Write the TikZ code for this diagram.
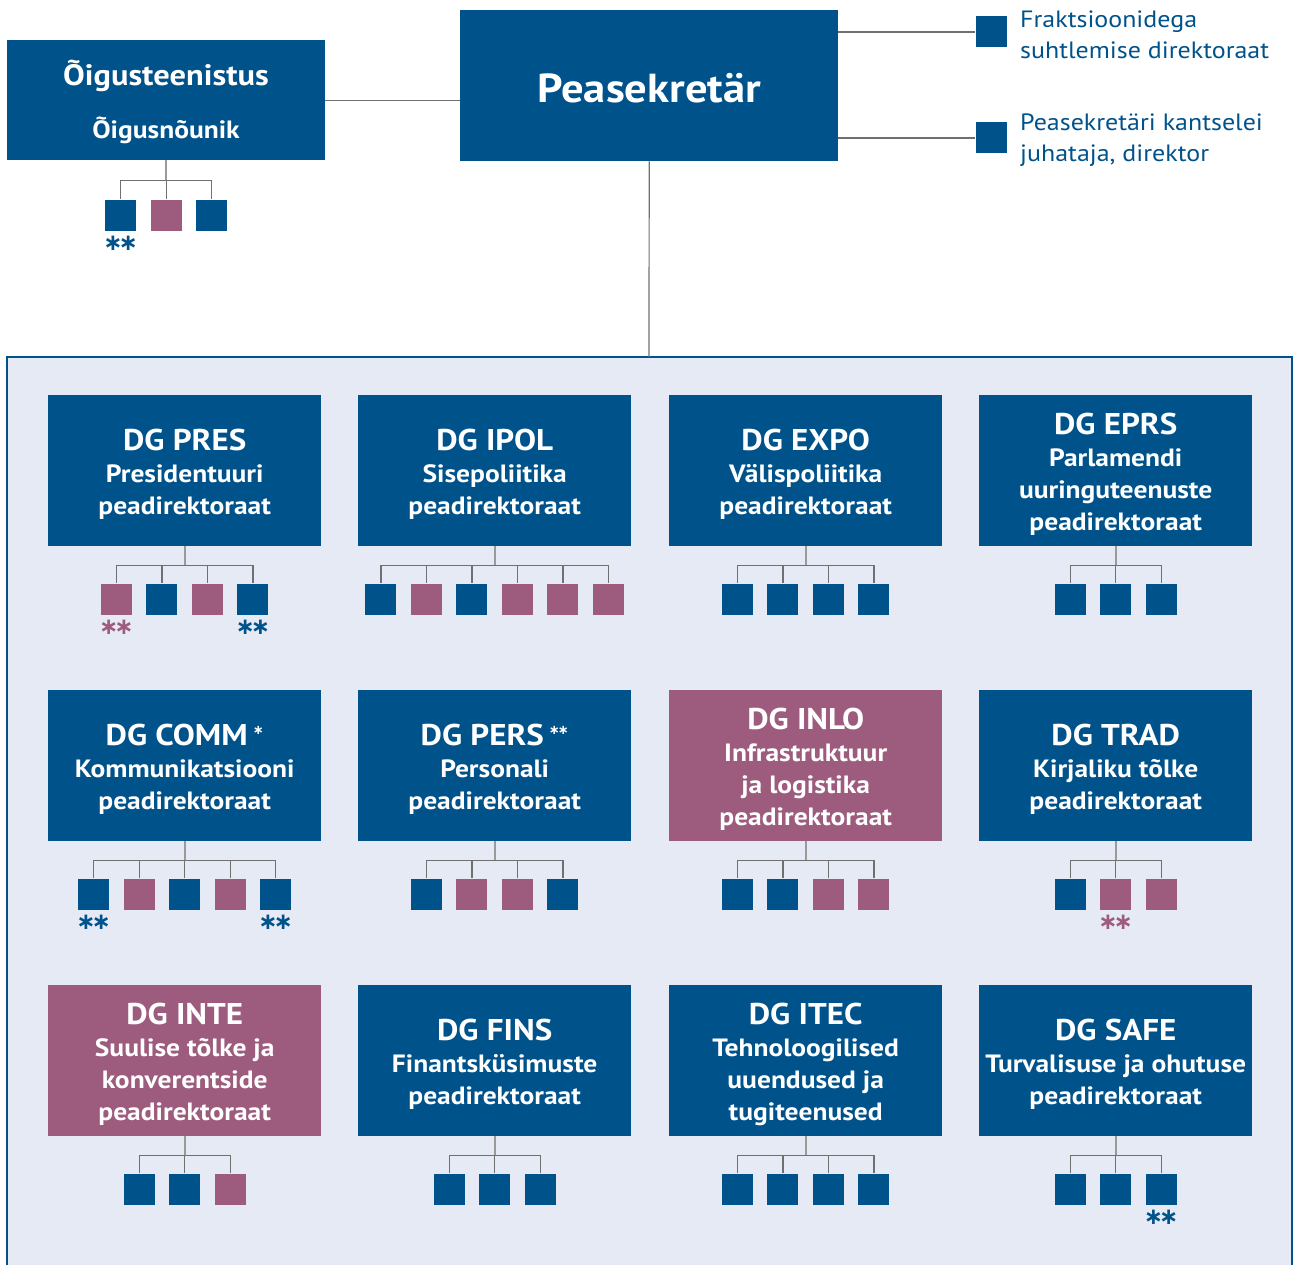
\documentclass[tikz,border=0pt]{standalone}
\usepackage{fontspec}
\setmainfont{PT Sans}[FakeStretch=1.1]
\newfontfamily\starfont{DejaVu Sans}
\usetikzlibrary{calc}
\definecolor{epblue}{HTML}{00528B}
\definecolor{eppink}{HTML}{9D5C7D}
\definecolor{epbg}{HTML}{E6EAF4}
\definecolor{epline}{HTML}{707070}
\definecolor{epstem}{HTML}{9A9A9A}
\tikzset{
  dgbox/.style={minimum width=273pt, minimum height=151pt, inner sep=0pt, anchor=north west,
    text=white, font=\bfseries\fontsize{25}{32}\selectfont, align=center},
  dgtext/.style={text=white, font=\bfseries\fontsize{25}{32}\selectfont, align=center, inner sep=0pt},
  sq/.style={minimum size=31pt, inner sep=0pt, draw=none},
  stemline/.style={draw=epstem, line width=2pt},
  barline/.style={draw=epline, line width=1.4pt},
  stars/.style={font=\starfont\bfseries\fontsize{23}{23}\selectfont, inner sep=0pt, anchor=base},
  sidetext/.style={anchor=west, text=epblue, font=\fontsize{23.6}{31}\selectfont, align=left, inner sep=0pt},
  thinline/.style={draw=epline, line width=1.2pt},
}
\newcommand\orgunit[5]{\node[dgbox, fill=#4] (#1) at (#2,#3) {};
  \node[dgtext] (#1-t) at ($(#1.center)+(0,3.5)$) {#5};}
\newcommand\orgkids[3]{%
  \coordinate (#1-j) at ($(#1.south)+(0,19)$);
  \draw[stemline] (#1.south) -- (#1-j);
  \foreach \c [count=\i] in {#3} {
    \node[sq, fill=\c, anchor=north] (#1-\i) at ($(#1.south)+({(\i-(#2+1)/2)*45.5},37)$) {};
    \draw[barline] (#1-j) -| (#1-\i.north);
  }%
}
\newcommand\titl[1]{{\fontsize{30}{32}\selectfont #1}}
\newcommand\supstar[1]{\raisebox{11pt}{\starfont\bfseries\fontsize{13}{13}\selectfont #1}}
\newcommand\starlabel[3]{\node[stars, text=#1] (#2-s) at ($(#2.south)+(0,20)$) {∗\kern-4pt∗};}
\begin{document}
\begin{tikzpicture}[x=1pt,y=-1pt]
\useasboundingbox (0,0) rectangle (1293,1265);
% panel
\fill[epbg] (7,357) rectangle (1292,1265);
\draw[epblue, line width=1.3pt] (7,1265) -- (7,357) -- (1292,357) -- (1292,1265);
\coordinate (paneltop) at (649,357);

% top level
\node[fill=epblue, minimum width=378pt, minimum height=151pt, inner sep=0pt, anchor=north west] (peasek) at (460,10) {};
\node[text=white, font=\bfseries\fontsize{40.5}{42}\selectfont, inner sep=0pt] (peasek-t) at ($(peasek.center)+(0,2.5)$) {Peasekretär};
\node[fill=epblue, minimum width=318pt, minimum height=120pt, inner sep=0pt, anchor=north west] (oigus) at (7,40) {};
\node[text=white, font=\bfseries\fontsize{29.5}{32}\selectfont, inner sep=0pt] (oigus-t1) at (166,76) {Õigusteenistus};
\node[text=white, font=\bfseries\fontsize{25}{32}\selectfont, inner sep=0pt] (oigus-t2) at (166,130) {Õigusnõunik};
\draw[thinline] (oigus.east) -- (oigus.east -| peasek.west);
\draw[thinline] (peasek.south) -- (paneltop);

\node[sq, fill=epblue] (fr) at (991,32) {};
\node[sq, fill=epblue] (kants) at (991,138) {};
\draw[thinline] (fr.west -| peasek.east) -- (fr.west);
\draw[thinline] (kants.west -| peasek.east) -- (kants.west);
\node[sidetext] (frt) at (1020,34.5) {Fraktsioonidega\\suhtlemise direktoraat};
\node[sidetext] (kantst) at (1020,140) {Peasekretäri kantselei\\juhataja, direktor};

% legal service children
\coordinate (oigus-j) at ($(oigus.south)+(0,20)$);
\draw[stemline] (oigus.south) -- (oigus-j);
\foreach \c [count=\i] in {epblue,eppink,epblue} {
  \node[sq, fill=\c, anchor=north] (oigus-\i) at ($(oigus.south)+({(\i-2)*45.5},39)$) {};
  \draw[barline] (oigus-j) -| (oigus-\i.north);
}
\starlabel{epblue}{oigus-1}{}

% row 1
\orgunit{pres}{48}{395}{epblue}{\titl{DG PRES}\\Presidentuuri\\peadirektoraat}
\orgunit{ipol}{358}{395}{epblue}{\titl{DG IPOL}\\Sisepoliitika\\peadirektoraat}
\orgunit{expo}{669}{395}{epblue}{\titl{DG EXPO}\\Välispoliitika\\peadirektoraat}
\orgunit{eprs}{979}{395}{epblue}{\titl{DG EPRS}\\Parlamendi\\uuringuteenuste\\peadirektoraat}
% row 2
\orgunit{comm}{48}{690}{epblue}{\titl{DG COMM\,\supstar{∗}}\\Kommunikatsiooni\\peadirektoraat}
\orgunit{pers}{358}{690}{epblue}{\titl{DG PERS\,\supstar{∗\kern-2pt∗}}\\Personali\\peadirektoraat}
\orgunit{inlo}{669}{690}{eppink}{\titl{DG INLO}\\Infrastruktuur\\ja logistika\\peadirektoraat}
\orgunit{trad}{979}{690}{epblue}{\titl{DG TRAD}\\Kirjaliku tõlke\\peadirektoraat}
% row 3
\orgunit{inte}{48}{985}{eppink}{\titl{DG INTE}\\Suulise tõlke ja\\konverentside\\peadirektoraat}
\orgunit{fins}{358}{985}{epblue}{\titl{DG FINS}\\Finantsküsimuste\\peadirektoraat}
\orgunit{itec}{669}{985}{epblue}{\titl{DG ITEC}\\Tehnoloogilised\\uuendused ja\\tugiteenused}
\orgunit{safe}{979}{985}{epblue}{\titl{DG SAFE}\\Turvalisuse ja ohutuse\\peadirektoraat}

\orgkids{pres}{4}{eppink,epblue,eppink,epblue}
\orgkids{ipol}{6}{epblue,eppink,epblue,eppink,eppink,eppink}
\orgkids{expo}{4}{epblue,epblue,epblue,epblue}
\orgkids{eprs}{3}{epblue,epblue,epblue}
\orgkids{comm}{5}{epblue,eppink,epblue,eppink,epblue}
\orgkids{pers}{4}{epblue,eppink,eppink,epblue}
\orgkids{inlo}{4}{epblue,epblue,eppink,eppink}
\orgkids{trad}{3}{epblue,eppink,eppink}
\orgkids{inte}{3}{epblue,epblue,eppink}
\orgkids{fins}{3}{epblue,epblue,epblue}
\orgkids{itec}{4}{epblue,epblue,epblue,epblue}
\orgkids{safe}{3}{epblue,epblue,epblue}

\starlabel{eppink}{pres-1}{}
\starlabel{epblue}{pres-4}{}
\starlabel{epblue}{comm-1}{}
\starlabel{epblue}{comm-5}{}
\starlabel{eppink}{trad-2}{}
\starlabel{epblue}{safe-3}{}
\end{tikzpicture}
\end{document}
